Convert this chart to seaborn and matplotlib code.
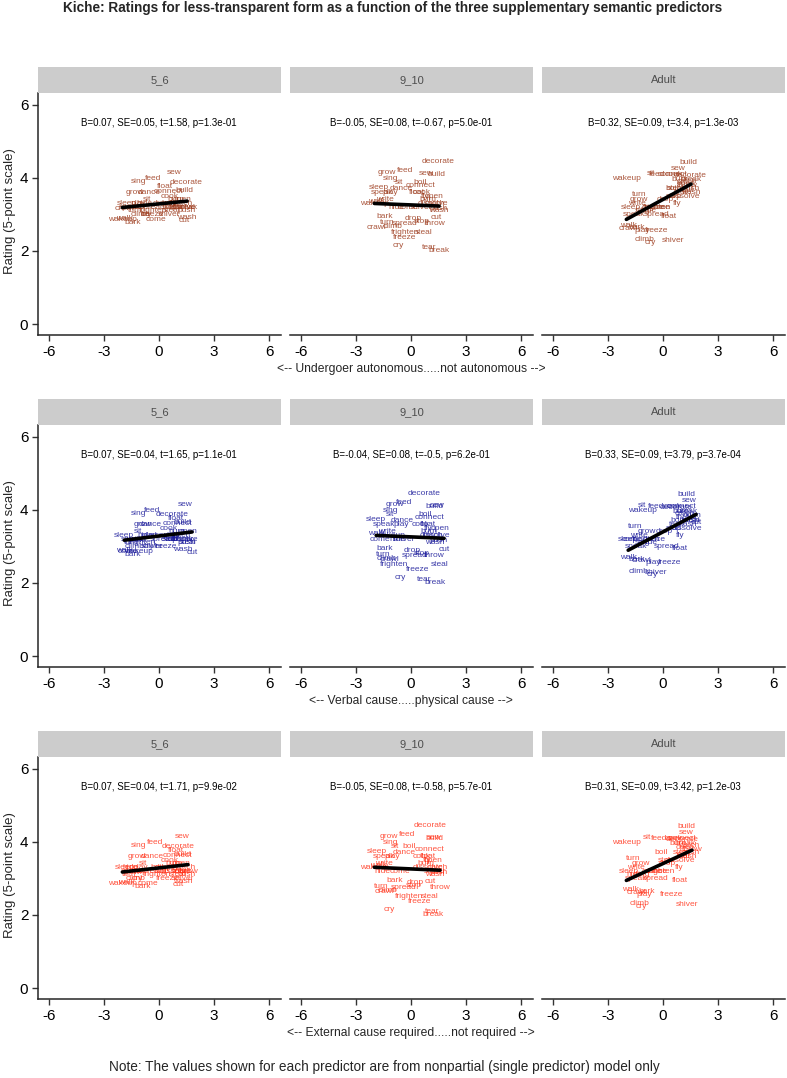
import numpy as np
import pandas as pd
import matplotlib
matplotlib.use("Agg")
import matplotlib.pyplot as plt
import seaborn as sns

# verbs and their values (approximate)
verbs = ["sew", "sing", "feed", "decorate", "build", "float", "grow", "dance", "connect",
         "crawl", "wakeup", "bark", "come", "cut", "wash", "shiver", "sleep", "speak",
         "sit", "boil", "open", "push", "turn", "spread", "climb", "throw", "frighten",
         "steal", "freeze", "tear", "break", "cry", "drop", "stop", "hide", "write",
         "fly", "play", "catch", "dissolve", "cook", "burn", "walk"]

# predictor values
undergoer = [0.8, -1.14, -0.33, 1.45, 1.4, 0.3, -1.3, -0.55, 0.5,
             -1.9, -2.0, -1.45, -0.16, 1.4, 1.53, 0.55, -1.74, -1.58,
             -0.65, 0.49, 1.25, 1.5, -1.28, -0.33, -1.0, 1.31, -0.33,
             0.71, -0.35, 0.98, 1.53, -0.7, 0.1, 0.6, -0.8, -1.42,
             0.76, -1.14, 1.3, 1.2, 0.6, 0.9, -1.9]
verbal = [1.4, -1.1, -0.4, 0.7, 1.3, 0.9, -0.9, -0.5, 1.0,
          -1.2, -1.1, -1.45, -1.7, 1.8, 1.3, -0.38, -1.9, -1.5,
          -1.14, 0.77, 1.58, 1.5, -1.5, 0.2, -1.36, 1.25, -0.93,
          1.58, 0.38, 0.71, 1.31, -0.6, 0.06, 0.6, -0.76, -1.3,
          0.93, -0.55, 1.2, 1.31, 0.5, 1.0, -1.9]
external = [1.25, -1.1, -0.22, 1.04, 1.3, 0.9, -1.2, -0.4, 1.0,
            -1.42, -2.0, -0.9, -0.6, 1.04, 1.3, 1.3, -1.85, -1.5,
            -0.87, -0.11, 1.2, 1.5, -1.64, -0.38, -1.3, 1.58, -0.11,
            1.04, 0.49, 1.15, 1.2, -1.2, 0.2, 0.16, -1.58, -1.5,
            0.9, -1.0, 1.45, 0.9, 0.6, 0.8, -1.8]

# ratings per age group
rating_5_6 = [4.15, 3.90, 3.98, 3.87, 3.66, 3.77, 3.60, 3.60, 3.63,
              3.17, 2.87, 2.78, 2.87, 2.84, 2.92, 3.00, 3.30, 3.20,
              3.40, 3.30, 3.40, 3.10, 3.10, 3.20, 3.00, 3.20, 3.10,
              3.10, 3.00, 3.20, 3.20, 3.00, 3.30, 3.20, 3.30, 3.20,
              3.30, 3.30, 3.30, 3.20, 3.50, 3.40, 2.90]
rating_9_10 = [4.12, 3.98, 4.20, 4.45, 4.10, 3.60, 4.15, 3.70, 3.79,
               2.65, 3.30, 2.95, 3.20, 2.92, 3.11, 3.20, 3.74, 3.60,
               3.87, 3.87, 3.50, 3.15, 2.79, 2.76, 2.67, 2.76, 2.51,
               2.51, 2.38, 2.08, 2.00, 2.16, 2.90, 2.80, 3.20, 3.40,
               3.50, 3.60, 3.30, 3.30, 3.60, 3.40, 3.35]
rating_adult = [4.25, 3.10, 4.10, 4.05, 4.42, 2.95, 3.40, 3.20, 4.10,
                2.62, 3.98, 2.65, 3.20, 3.65, 3.60, 2.29, 3.20, 3.00,
                4.12, 3.70, 3.85, 3.70, 3.55, 3.00, 2.32, 3.80, 3.20,
                3.70, 2.57, 3.60, 3.95, 2.24, 3.40, 3.50, 3.10, 3.30,
                3.30, 2.57, 3.90, 3.50, 4.10, 3.95, 2.70]

groups = ["5_6", "9_10", "Adult"]
predictors = ["undergoer", "verbal", "external"]
xlabels = ["<-- Undergoer autonomous.....not autonomous -->",
           "<-- Verbal cause.....physical cause -->",
           "<-- External cause required.....not required -->"]
stats = [["B=0.07, SE=0.05, t=1.58, p=1.3e-01", "B=-0.05, SE=0.08, t=-0.67, p=5.0e-01", "B=0.32, SE=0.09, t=3.4, p=1.3e-03"],
         ["B=0.07, SE=0.04, t=1.65, p=1.1e-01", "B=-0.04, SE=0.08, t=-0.5, p=6.2e-01", "B=0.33, SE=0.09, t=3.79, p=3.7e-04"],
         ["B=0.07, SE=0.04, t=1.71, p=9.9e-02", "B=-0.05, SE=0.08, t=-0.58, p=5.7e-01", "B=0.31, SE=0.09, t=3.42, p=1.2e-03"]]
row_colors = [("#9C3A1C", 0.85), ("#1A1A9A", 0.85), ("#FF2A10", 0.8)]

df = pd.DataFrame({"verb": verbs, "undergoer": undergoer, "verbal": verbal, "external": external,
                   "5_6": rating_5_6, "9_10": rating_9_10, "Adult": rating_adult})

sns.set_style("ticks")
plt.rcParams["font.family"] = ["Liberation Sans", "DejaVu Sans"]

W, H = 787, 1078
fig = plt.figure(figsize=(W / 100, H / 100), dpi=100)
lefts = [38, 290, 542]
pw = 243
row_step = 332


def fbox(x0, y0, w, h):
    return [x0 / W, 1 - (y0 + h) / H, w / W, h / H]


for r, pred in enumerate(predictors):
    top = 93 + r * row_step
    for c, grp in enumerate(groups):
        ax = fig.add_axes(fbox(lefts[c], top, pw, 242))
        sns.regplot(data=df, x=pred, y=grp, scatter=False, ci=None, color="black",
                    line_kws=dict(lw=2.6, zorder=5), ax=ax)
        col, a = row_colors[r]
        for _, row in df.iterrows():
            ax.text(row[pred], row[grp], row["verb"], fontsize=6, color=col, alpha=a,
                    ha="center", va="center", zorder=3)
        ax.text(0, 5.5, stats[r][c], fontsize=7, ha="center", va="center", color="black")
        ax.set_xlim(-6.6, 6.65)
        ax.set_ylim(-0.3, 6.32)
        ax.set_xticks([-6, -3, 0, 3, 6])
        ax.set_xticklabels(["-6", "-3", "0", "3", "6"])
        ax.set_xlabel("")
        ax.set_ylabel("")
        ax.tick_params(axis="both", labelsize=11, length=4, width=1, pad=3, colors="#333333",
                       labelcolor="black")
        ax.spines["top"].set_visible(False)
        ax.spines["right"].set_visible(False)
        ax.spines["bottom"].set_linewidth(1.1)
        if c == 0:
            ax.set_yticks([0, 2, 4, 6])
            ax.spines["left"].set_linewidth(1.1)
        else:
            ax.set_yticks([])
            ax.spines["left"].set_visible(False)
        # facet strip
        sax = fig.add_axes(fbox(lefts[c], top - 26, pw, 26))
        sax.set_facecolor("#cccccc")
        sax.set_xticks([])
        sax.set_yticks([])
        for s in sax.spines.values():
            s.set_visible(False)
        sax.text(0.5, 0.5, grp, fontsize=8, color="#4d4d4d", ha="center", va="center",
                 transform=sax.transAxes)
    fig.text(10 / W, 1 - (top + 118) / H, "Rating (5-point scale)", rotation=90,
             fontsize=9.5, ha="center", va="center")
    fig.text(411 / W, 1 - (369 + r * row_step) / H, xlabels[r], fontsize=8.7,
             ha="center", va="center")

fig.text(393 / W, 1 - 8 / H,
         "Kiche: Ratings for less-transparent form as a function of the three supplementary semantic predictors",
         fontsize=9.8, fontweight="bold", ha="center", va="center")
fig.text(384 / W, 1 - 1067 / H,
         "Note: The values shown for each predictor are from nonpartial (single predictor) model only",
         fontsize=9.8, ha="center", va="center")

fig.savefig("out.png", dpi=100)
